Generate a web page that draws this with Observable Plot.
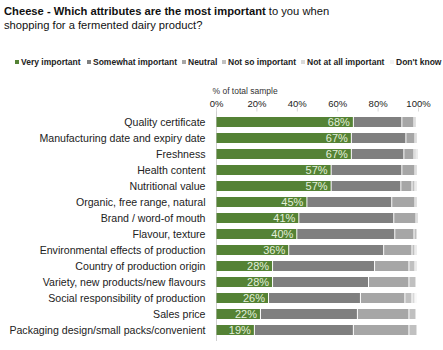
<!DOCTYPE html>
<html>
<head>
<meta charset="utf-8">
<script src="https://cdn.jsdelivr.net/npm/d3@7"></script>
<script src="https://cdn.jsdelivr.net/npm/@observablehq/plot@0.6"></script>
<style>
  html, body { margin: 0; padding: 0; background: #fff; width: 443px; height: 350px; overflow: hidden; font-family: "Liberation Sans", Arial, sans-serif; }
  #title { position: absolute; left: 4px; top: 4px; font-size: 11.2px; line-height: 14px; color: #111; white-space: nowrap; }
  #title b { font-weight: bold; }
  #legend { position: absolute; left: 0; top: 57px; width: 443px; height: 12px; font-size: 8.5px; font-weight: bold; color: #222; white-space: nowrap; }
  #legend .item { position: absolute; top: 0; }
  #legend span.sw { display: inline-block; width: 4px; height: 4px; margin-right: 2px; vertical-align: 1px; }
  #chart { position: absolute; left: 0; top: 80px; }
</style>
</head>
<body>
<div id="title"><b>Cheese - Which attributes are the most important</b> to you when<br>shopping for a fermented dairy product?</div>
<div id="legend"></div>
<div id="chart"></div>
<script>
const categories = [
  "Quality certificate",
  "Manufacturing date and expiry date",
  "Freshness",
  "Health content",
  "Nutritional value",
  "Organic, free range, natural",
  "Brand / word-of mouth",
  "Flavour, texture",
  "Environmental effects of production",
  "Country of production origin",
  "Variety, new products/new flavours",
  "Social responsibility of production",
  "Sales price",
  "Packaging design/small packs/convenient"
];
const levels = ["Very important", "Somewhat important", "Neutral", "Not so important", "Not at all important", "Don't know"];
const colors = ["#548235", "#7f7f7f", "#a6a6a6", "#c0c0c0", "#d9d9d9", "#f2f2f2"];
const veryImportant     = [68, 67, 67, 57, 57, 45, 41, 40, 36, 28, 28, 26, 22, 19];
const somewhatImportant = [24, 27, 26, 35, 34.5, 42, 47, 48.5, 47, 50.5, 47.5, 45.5, 48, 49];
const neutral           = [6, 4.5, 5, 6.5, 5.5, 11.5, 11, 9.5, 14, 17, 20, 22, 25.5, 27.5];
const notSoImportant    = [1, 1, 1, 1, 1.5, 1, 1, 1.5, 1.5, 3, 3.5, 3.5, 3.5, 4];
const notAtAllImportant = [0.5, 0.5, 1, 0.5, 1, 0.5, 0.5, 0.5, 1, 1, 0.5, 1.5, 0.5, 0.5];
const dontKnow          = [0.5, 0.5, 0.5, 0, 0.5, 0, 0, 0, 0.5, 0.5, 0.5, 1, 0.5, 0];
const xTicks = [0, 20, 40, 60, 80, 100];
const axisTitle = "% of total sample";

const series = [veryImportant, somewhatImportant, neutral, notSoImportant, notAtAllImportant, dontKnow];
const rows = [];
categories.forEach((c, i) => {
  levels.forEach((l, j) => rows.push({category: c, level: l, value: series[j][i]}));
});
const labels = categories.map((c, i) => ({category: c, value: veryImportant[i]}));

// legend (HTML, laid out like the reference)
const legendLeft = [15, 87, 182, 222, 301, 390];
const legend = document.getElementById("legend");
levels.forEach((l, j) => {
  const item = document.createElement("span");
  item.className = "item";
  item.style.left = legendLeft[j] + "px";
  item.innerHTML = `<span class="sw" style="background:${colors[j]}"></span>${l}`;
  legend.appendChild(item);
});

const chart = Plot.plot({
  width: 443,
  height: 270,
  marginLeft: 216,
  marginRight: 25,
  marginTop: 30.5,
  marginBottom: 9,
  style: {fontFamily: "Liberation Sans, Arial, sans-serif", color: "#222"},
  x: {domain: [0, 100]},
  y: {domain: categories, padding: 0.4},
  color: {domain: levels, range: colors},
  marks: [
    Plot.ruleX([0], {stroke: "#d0d0d0"}),
    Plot.barX(rows, Plot.stackX({y: "category", x: "value", fill: "level", insetRight: 0.5, insetLeft: 0.5})),
    Plot.text(labels, {y: "category", x: "value", text: d => d.value + "%", textAnchor: "end", dx: -4, fill: "#e2efda", fontSize: 11}),
    Plot.axisX(xTicks, {anchor: "top", tickFormat: d => d + "%", tickSize: 4, tickPadding: 0, stroke: "#d9d9d9", fontSize: 9.5, label: null}),
    Plot.text([axisTitle], {frameAnchor: "top-left", textAnchor: "start", dx: -4, dy: -23, fontSize: 8.5, fill: "#333"}),
    Plot.axisY({anchor: "left", tickSize: 0, tickPadding: 11, fontSize: 10.6, label: null})
  ]
});
document.getElementById("chart").appendChild(chart);
</script>
</body>
</html>
